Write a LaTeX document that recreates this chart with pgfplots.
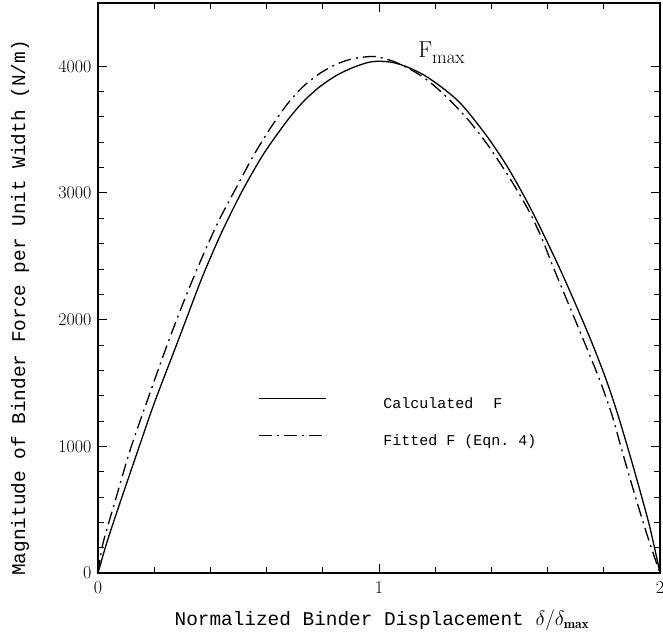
\documentclass[border=0pt]{standalone}
\usepackage{fontspec}
\setmonofont{Liberation Mono}
\usepackage{pgfplots}
\pgfplotsset{compat=1.18}
\begin{document}
\begin{tikzpicture}
\begin{axis}[name=ax,
  scale only axis, width=562pt, height=570pt,
  xmin=0, xmax=2, ymin=0, ymax=4500,
  xtick={0,1,2}, ytick={0,1000,2000,3000,4000},
  minor x tick num=4, minor y tick num=4,
  tick align=inside, xtick pos=both, ytick pos=both,
  major tick length=9pt, minor tick length=6pt,
  axis line style={line width=1.4pt},
  every tick/.style={line width=1pt, black},
  tick label style={font=\rmfamily\fontsize{18}{21}\selectfont},
  /pgf/number format/assume math mode=true,
  /pgf/number format/1000 sep={},
  scaled y ticks=false,
  yticklabel style={xshift=-3pt},
  xticklabel style={yshift=-5pt},
  xlabel={Normalized Binder Displacement $\delta/\delta_{\mathbf{max}}$},
  ylabel={Magnitude of Binder Force per Unit Width (N/m)},
  label style={font=\ttfamily\fontsize{19.4}{23}\selectfont},
  xlabel style={at={(axis description cs:0.5,0)}, anchor=base, yshift=-52pt, xshift=3pt},
  ylabel style={at={(axis description cs:-0.1388,0.465)}, anchor=center},
  legend image code/.code={\draw[#1] (0pt,5pt) -- (67pt,5pt);},
  legend cell align=left,
  legend style={draw=none, fill=none, inner sep=0pt,
    at={(axis cs:0.569,1405)}, anchor=north west,
    font=\ttfamily\fontsize{15}{18}\selectfont,
    row sep=21pt, column sep=55pt},
]
\addplot[black, line width=1.3pt, smooth] coordinates {
(0,0) (0.03,230) (0.07,500) (0.142,968) (0.2,1340) (0.274,1770) (0.31,1980)
(0.37,2330) (0.434,2660) (0.5,2960) (0.552,3170) (0.6,3345) (0.673,3570)
(0.73,3720) (0.79,3840) (0.85,3930) (0.907,3990) (0.96,4030) (1.0,4040)
(1.05,4030) (1.1,3995) (1.157,3935) (1.22,3840) (1.28,3730) (1.324,3620)
(1.39,3430) (1.456,3210) (1.52,2960) (1.573,2730) (1.644,2400)
(1.705,2094) (1.76,1805) (1.811,1510) (1.85,1250) (1.893,930) (1.93,640)
(1.964,360) (2.0,0)
};
\addlegendentry{Calculated\hspace{20pt}F}
\addplot[black, line width=1.3pt, smooth, dash pattern=on 13pt off 5pt on 2pt off 5pt] coordinates {
(0,0) (0.018,236) (0.06,560) (0.114,968) (0.18,1390) (0.246,1800) (0.31,2170)
(0.374,2510) (0.434,2800) (0.5,3075) (0.552,3290) (0.61,3500) (0.673,3700)
(0.73,3840) (0.79,3945) (0.85,4018) (0.907,4060) (0.97,4078) (1.0,4072)
(1.05,4040) (1.1,3990) (1.15,3925) (1.2,3840) (1.26,3715) (1.324,3560)
(1.39,3370) (1.456,3150) (1.5,2990) (1.54,2830) (1.58,2640) (1.619,2420)
(1.68,2094) (1.735,1800) (1.786,1520) (1.83,1240) (1.868,940) (1.91,620)
(1.947,350) (1.975,160) (2.0,0)
};
\addlegendentry{Fitted F (Eqn. 4)}
\node[anchor=base west, inner sep=0pt, font=\rmfamily] at (axis cs:1.139,4073)
  {\fontsize{23}{26}\selectfont F\raisebox{-6pt}{\fontsize{19}{22}\selectfont max}};
\end{axis}
\pgfresetboundingbox
\path[use as bounding box] ([shift={(-98pt,-67pt)}]ax.south west) rectangle ([shift={(3pt,3pt)}]ax.north east);
\end{tikzpicture}
\end{document}
